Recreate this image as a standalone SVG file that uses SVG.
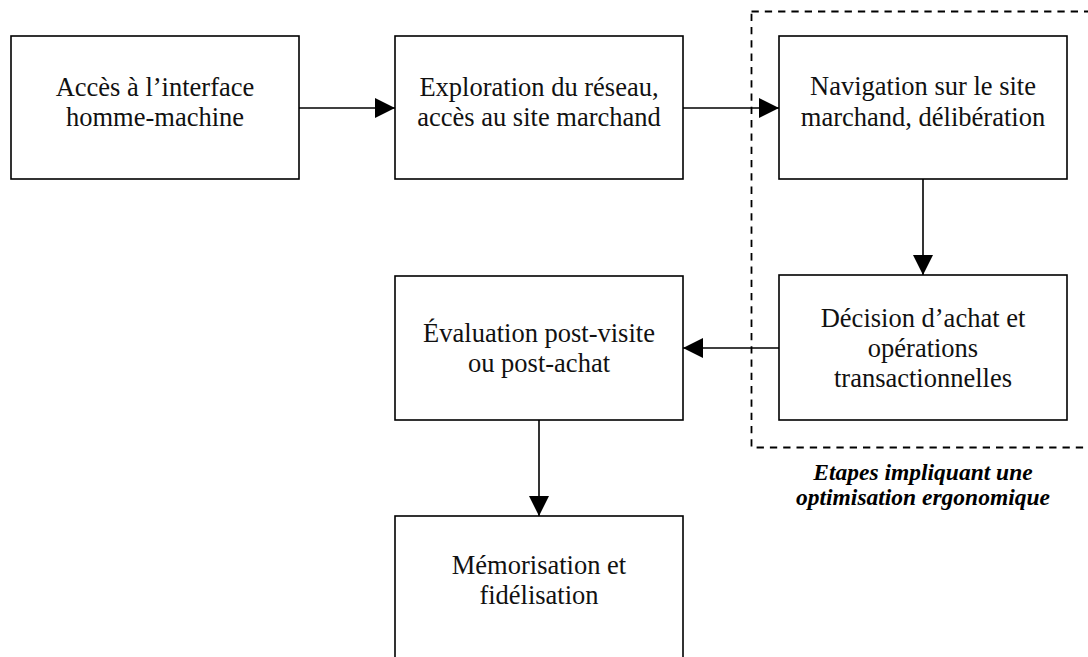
<svg xmlns="http://www.w3.org/2000/svg" width="1088" height="657" viewBox="0 0 1088 657">
<style>
.box{fill:#fff;stroke:#000;stroke-width:1.6}
.t{font-family:"Liberation Serif","Times New Roman",serif;font-size:26.5px;fill:#111;text-anchor:middle}
.lbl{font-family:"Liberation Serif","Times New Roman",serif;font-size:23.5px;font-weight:bold;font-style:italic;fill:#000;text-anchor:middle}
.c{stroke:#000;stroke-width:1.6;fill:none;marker-end:url(#ah)}
.dash{fill:none;stroke:#000;stroke-width:1.8;stroke-dasharray:7.3 6}
</style>
<defs>
<marker id="ah" markerUnits="userSpaceOnUse" markerWidth="20" markerHeight="20" refX="20" refY="10" orient="auto" viewBox="0 0 20 20">
<path d="M0,0 L20,10 L0,20 z" fill="#000"/>
</marker>
</defs>
<rect width="1088" height="657" fill="#fff"/>
<g id="group-ergonomie">
<rect class="dash" x="751.5" y="11.5" width="400" height="436"/>
<text class="lbl" x="923" y="480">Etapes impliquant une</text>
<text class="lbl" x="923" y="505">optimisation ergonomique</text>
</g>
<g id="connectors">
<line class="c" x1="299" y1="108" x2="395" y2="108"/>
<line class="c" x1="683" y1="108" x2="779" y2="108"/>
<line class="c" x1="923" y1="179" x2="923" y2="275"/>
<line class="c" x1="779" y1="348" x2="683" y2="348"/>
<line class="c" x1="539" y1="420" x2="539" y2="516"/>
</g>
<g id="n1">
<rect class="box" x="11" y="36" width="288" height="143"/>
<text class="t" x="155" y="96">Accès à l’interface</text>
<text class="t" x="155" y="126">homme-machine</text>
</g>
<g id="n2">
<rect class="box" x="395" y="36" width="288" height="143"/>
<text class="t" x="539" y="96">Exploration du réseau,</text>
<text class="t" x="539" y="126">accès au site marchand</text>
</g>
<g id="n3">
<rect class="box" x="779" y="36" width="288" height="143"/>
<text class="t" x="923" y="95">Navigation sur le site</text>
<text class="t" x="923" y="126">marchand, délibération</text>
</g>
<g id="n4">
<rect class="box" x="779" y="275" width="288" height="145"/>
<text class="t" x="923" y="327">Décision d’achat et</text>
<text class="t" x="923" y="357">opérations</text>
<text class="t" x="923" y="387">transactionnelles</text>
</g>
<g id="n5">
<rect class="box" x="395" y="276" width="288" height="144"/>
<text class="t" x="539" y="342">Évaluation post-visite</text>
<text class="t" x="539" y="372">ou post-achat</text>
</g>
<g id="n6">
<rect class="box" x="395" y="516" width="288" height="170"/>
<text class="t" x="539" y="574">Mémorisation et</text>
<text class="t" x="539" y="604">fidélisation</text>
</g>
</svg>
